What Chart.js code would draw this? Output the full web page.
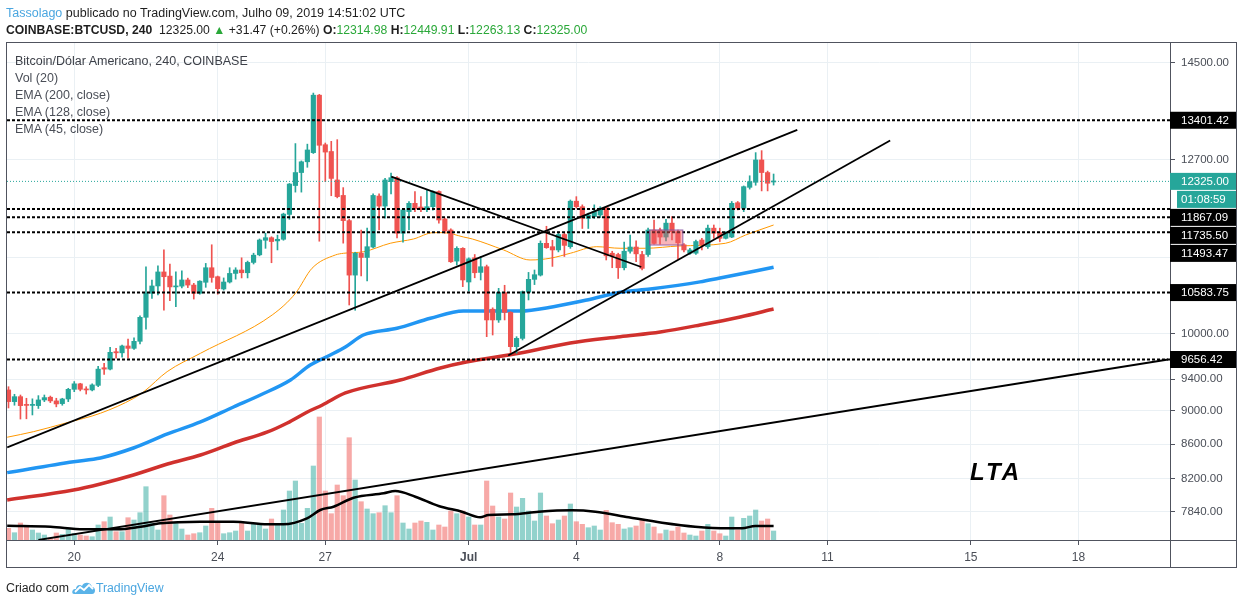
<!DOCTYPE html>
<html>
<head>
<meta charset="utf-8">
<title>BTCUSD 240</title>
<script src="https://cdn.jsdelivr.net/npm/chart.js@4.4.1/dist/chart.umd.min.js"></script>
<style>
  html, body { margin: 0; padding: 0; background: #fff; }
  body { width: 1244px; height: 605px; position: relative; overflow: hidden;
         font-family: "Liberation Sans", Arial, sans-serif; color: #1e1e1e; }
  #chart { position: absolute; left: 0; top: 0; }
  .txt { position: absolute; white-space: nowrap; }
  #head1 { left: 6px; top: 5px; font-size: 12.5px; line-height: 16px; }
  #head2 { left: 6px; top: 22px; font-size: 12.2px; line-height: 16px; }
  .b { font-weight: bold; }
  .up { color: #2aa839; }
  #legend { left: 15px; top: 53px; font-size: 12.5px; line-height: 17px; color: #4a4e57; }
  #legend div:first-child { color: #3c3f47; }
  #lta { left: 970px; top: 460px; font: italic bold 24px "Liberation Sans", Arial, sans-serif; line-height: 24px; letter-spacing: 3px; color: #000; }
  #frame { position: absolute; left: 6px; top: 42px; width: 1231px; height: 526px; border: 1px solid #50535e; box-sizing: border-box; }
  #axisV { position: absolute; left: 1170px; top: 540px; width: 1px; height: 27px; background: #50535e; }
  #axisH { position: absolute; left: 1170px; top: 540px; width: 66px; height: 1px; background: #50535e; }
  #foot { left: 6px; top: 579px; font-size: 12.3px; line-height: 16px; }
  #foot svg { vertical-align: -3px; margin-left: 3px; }
</style>
</head>
<body>
<canvas id="chart" width="1244" height="605"></canvas>
<div id="frame"></div>
<div id="axisV"></div>
<div id="axisH"></div>
<div id="head1" class="txt"><span style="color:#4aa6e0">Tassolago</span> publicado no TradingView.com, Julho 09, 2019 14:51:02 UTC</div>
<div id="head2" class="txt"><span class="b">COINBASE:BTCUSD, 240</span>&nbsp; 12325.00 <span class="up">▲</span> +31.47 (+0.26%) <span class="b">O:</span><span class="up">12314.98</span> <span class="b">H:</span><span class="up">12449.91</span> <span class="b">L:</span><span class="up">12263.13</span> <span class="b">C:</span><span class="up">12325.00</span></div>
<div id="legend" class="txt">
  <div>Bitcoin/Dólar Americano, 240, COINBASE</div>
  <div>Vol (20)</div>
  <div>EMA (200, close)</div>
  <div>EMA (128, close)</div>
  <div>EMA (45, close)</div>
</div>
<div id="lta" class="txt">LTA</div>
<div id="foot" class="txt">Criado com<svg width="24" height="16" viewBox="0 0 24 16"><path d="M2 15 C-1 15 0 9 4 10 C4 6 8 5 10 7 C12 2 19 3 20 8 C24 8 24 15 20 15 Z" fill="#5ab3e8"/><path d="M3 13 L8 8 L12 11 L17 6 L21 10" stroke="#fff" stroke-width="1.8" fill="none"/></svg><span style="color:#4aa6e0">TradingView</span></div>

<script>
// 4h candles, first one opens 18 Jun 04:00 UTC; days counted from 1 Jun (1 Jul = 31)
const startDay = 18 + 4 / 24;
const candleHours = 4;

const opens = [9262, 9115, 9177, 9080, 9068, 9065, 9136, 9170, 9124, 9090,
  9148, 9270, 9340, 9275, 9262, 9320, 9548, 9530, 9760, 9745,
  9837, 9805, 9900, 10231, 10573, 10680, 10887, 10825, 10666, 10677,
  10768, 10693, 10573, 10734, 10950, 10816, 10636, 10738, 10865, 10916,
  10875, 11030, 11145, 11370, 11410, 11360, 11385, 11780, 12255, 12475,
  12660, 12820, 13870, 12960, 12840, 12349, 12090, 11680, 10840, 11170,
  11105, 11265, 12080, 11915, 12320, 12387, 11480, 11825, 11960, 11900,
  11860, 11905, 12155, 11705, 11531, 11050, 11245, 10738, 11100, 10880,
  10965, 10345, 10194, 10583, 10300, 9828, 9940, 10590, 10777, 10840,
  11322, 11270, 11220, 11460, 11270, 11995, 11905, 11715, 11745, 11770,
  11890, 11170, 11150, 10950, 11200, 11265, 11150, 11150, 11531, 11531,
  11420, 11640, 11505, 11300, 11170, 11170, 11374, 11270, 11560, 11490,
  11400, 11420, 11970, 11880, 12225, 12310, 12692, 12475, 12314.98];
const highs = [9303, 9207, 9198, 9157, 9150, 9190, 9198, 9185, 9157, 9157,
  9283, 9369, 9347, 9303, 9340, 9565, 9605, 9820, 9805, 9850,
  9932, 9946, 10250, 10965, 10768, 10977, 11220, 11006, 10890, 10902,
  10795, 10718, 10757, 11015, 11300, 10826, 10798, 10950, 10950, 11100,
  11050, 11170, 11390, 11480, 11425, 11450, 11800, 12290, 12980, 12675,
  12970, 13910, 13885, 12990, 13020, 13050, 12220, 11700, 11185, 11530,
  11560, 12115, 12115, 12377, 12465, 12405, 11880, 11990, 12155, 12070,
  12180, 12165, 12165, 11720, 11550, 11270, 11255, 11100, 11150, 11120,
  10990, 10365, 10645, 10690, 10310, 9963, 10607, 10880, 10916, 11360,
  11590, 11370, 11500, 11480, 12015, 12070, 11935, 11800, 11935, 11905,
  11905, 11200, 11170, 11340, 11450, 11360, 11200, 11560, 11690, 11560,
  11700, 11745, 11531, 11320, 11245, 11374, 11400, 11610, 11610, 11560,
  11505, 11990, 11990, 12248, 12420, 12820, 12855, 12500, 12449.91];
const lows = [9036, 9070, 8900, 8903, 8950, 9030, 9115, 9103, 9050, 9070,
  9115, 9240, 9250, 9210, 9250, 9303, 9460, 9519, 9673, 9686,
  9673, 9790, 9864, 10065, 10500, 10550, 10330, 10466, 10380, 10650,
  10656, 10490, 10560, 10660, 10734, 10560, 10620, 10723, 10780, 10798,
  10798, 11006, 11130, 11245, 11025, 11220, 11370, 11700, 12145, 12145,
  12565, 12805, 11355, 12320, 12085, 12050, 11325, 10405, 10330, 10826,
  10753, 11250, 11531, 11720, 12115, 11405, 11340, 11531, 11825, 11825,
  11825, 11850, 11640, 11480, 11030, 10990, 10670, 10605, 10800, 10768,
  9963, 9986, 10160, 10194, 9740, 9740, 9918, 10477, 10700, 10826,
  11245, 10970, 11190, 11120, 11245, 11880, 11555, 11555, 11715, 11730,
  11067, 10950, 10790, 10916, 11170, 11040, 10916, 11120, 11310, 11310,
  11360, 11374, 11080, 11190, 11150, 11150, 11220, 11245, 11400, 11350,
  11390, 11410, 11852, 11825, 12195, 12260, 12165, 12165, 12263.13];
const closes = [9115, 9177, 9065, 9068, 9080, 9136, 9165, 9124, 9086, 9148,
  9270, 9340, 9270, 9262, 9326, 9530, 9530, 9752, 9745, 9837,
  9805, 9900, 10231, 10573, 10680, 10887, 10816, 10666, 10677, 10768,
  10693, 10573, 10750, 10950, 10805, 10640, 10738, 10865, 10916, 10875,
  11030, 11140, 11374, 11410, 11350, 11385, 11785, 12280, 12475, 12660,
  12867, 13870, 12950, 12830, 12375, 12070, 11680, 10840, 11170, 11105,
  11270, 12090, 11915, 12349, 12387, 11480, 11852, 11960, 11870, 11860,
  11905, 12155, 11690, 11515, 11040, 11245, 10768, 11085, 10875, 10965,
  10194, 10194, 10583, 10300, 9828, 9940, 10597, 10777, 10846, 11322,
  11255, 11220, 11460, 11290, 11995, 11905, 11715, 11770, 11825, 11880,
  11130, 11130, 10950, 11200, 11265, 11160, 10940, 11531, 11320, 11420,
  11640, 11505, 11330, 11220, 11220, 11350, 11300, 11560, 11480, 11400,
  11480, 11960, 11880, 12236, 12320, 12692, 12475, 12293.53, 12325];
const volumes = [1170, 730, 1700, 1430, 1000, 700, 500, 200, 700, 570,
  1170, 670, 500, 400, 330, 1500, 1830, 2300, 830, 830,
  2230, 2000, 2730, 5330, 1670, 1000, 4430, 2500, 1670, 1100,
  500, 630, 730, 1400, 3170, 1730, 630, 730, 900, 1830,
  900, 1570, 1570, 1100, 2100, 1570, 3000, 4900, 5900, 1670,
  3170, 7400, 12300, 4900, 2630, 5500, 4430, 10230, 6000, 3830,
  3100, 2630, 2730, 3430, 2730, 4430, 1700, 1100, 1700, 1900,
  1770, 1000, 1500, 1300, 2900, 2630, 2900, 2300, 1500, 1500,
  5900, 3400, 2300, 2100, 4700, 3300, 4170, 2900, 1900, 4700,
  2400, 1630, 2000, 2400, 3600, 1830, 1570, 1230, 1400, 1000,
  2970, 1730, 1570, 1100, 1230, 1400, 2000, 1630, 1300, 630,
  1000, 900, 1300, 700, 500, 400, 900, 1570, 900, 630,
  400, 2300, 1000, 2170, 2400, 3000, 1900, 2100, 900];

// indicator lines at sample points
const ema200Days = [18.13, 19.98, 20.73, 21.65, 22.6, 23.52, 24.44, 25.39, 25.94, 26.5, 26.92,
  27.56, 29.09, 30.21, 30.93, 32.44, 33.83, 35.22, 36.34, 37.45, 38.57, 39.5];
const ema200Vals = [7966, 8076, 8143, 8243, 8369, 8472, 8613, 8744, 8852, 8987, 9073,
  9224, 9389, 9545, 9623, 9743, 9877, 9963, 10027, 10124, 10236, 10348];
const ema128Days = [18.13, 19.98, 20.73, 21.65, 22.6, 23.52, 24.44, 25.19, 26.03, 26.58, 27.14, 27.56,
  28.06, 29.0, 29.93, 30.85, 32.44, 33.36, 34.3, 35.22, 36.06, 37.45, 37.97, 39.5];
const ema128Vals = [8270, 8395, 8438, 8554, 8720, 8865, 9048, 9198, 9389, 9584, 9716, 9823,
  9986, 10078, 10217, 10320, 10320, 10381, 10477, 10588, 10636, 10740, 10793, 10957];
const ema45Days = [18.13, 18.87, 19.8, 20.73, 21.66, 21.94, 22.59, 23.52, 25.52, 26.17, 26.63,
  27.28, 27.51, 28.07, 28.81, 29.46, 30.02, 30.3, 30.86, 31.1, 31.97, 32.71, 33.27, 33.83,
  34.57, 35.22, 35.93, 36.86, 38.16, 38.72, 39.5];
const ema45Vals = [8681, 8748, 8856, 8971, 9157, 9240, 9497, 9739, 10264, 10574, 10942,
  11143, 11169, 11193, 11323, 11390, 11489, 11489, 11420, 11390, 11220, 11067, 11093, 11169,
  11270, 11246, 11246, 11281, 11323, 11452, 11610];
const volMaDays = [18.13, 19.34, 20.26, 21.2, 21.85, 22.4, 23.52, 24.44, 25.39, 25.83, 26.49,
  26.86, 27.23, 27.79, 28.63, 28.95, 29.51, 30.16, 30.81, 31.32, 31.55, 32.21, 32.95, 33.88,
  34.53, 35.46, 36.39, 37.31, 38.24, 38.62, 38.99, 39.5];
const volMaVals = [1430, 1330, 1070, 1070, 1330, 1670, 1830, 1830, 1570, 1570, 2170,
  3000, 3330, 4230, 4670, 4900, 4330, 3400, 2830, 2270, 2500, 2570, 2830, 2970,
  2830, 2270, 1730, 1330, 1170, 1170, 1400, 1400];

// drawings
const trendDays = [[18.13, 40.16], [32.10, 42.75], [28.84, 35.81], [19.00, 50.50]];
const trendPrices = [[8562, 13225], [9710, 13036], [12405, 10961], [7541, 9656.42]];
const levelPrices = [13401.42, 11867.09, 11735.50, 11493.47, 10583.75, 9656.42];
const boxDays = [36.04, 36.97];
const boxPrices = [11296, 11531];
const countdown = '01:08:59';

// axes
const xMin = 18.125, xMax = 50.553;
const xTickDays = [20, 24, 27, 31, 34, 38, 41, 45, 48];
const xTickLabels = ['20', '24', '27', 'Jul', '4', '8', '11', '15', '18'];
const yMin = 7541, yMax = 14918;
const yTickValues = [7840, 8200, 8600, 9000, 9400, 10000, 11100, 12700, 14500];
const yHiddenTicks = [11100];
const volMax = 49800;

const upColour = '#26a69a', downColour = '#ef5350';
const gridColour = '#eaf0f4', axisColour = '#50535e', textColour = '#4a4e57';

Chart.defaults.font.family = '"Liberation Sans", Arial, sans-serif';

const candleDays = opens.map((o, i) => startDay + i * candleHours / 24);
const isUp = closes.map((c, i) => c >= opens[i]);
const candleColours = isUp.map(u => u ? upColour : downColour);
const volColours = isUp.map(u => u ? 'rgba(38,166,154,0.5)' : 'rgba(239,83,80,0.5)');
const pairs = (days, vals) => days.map((d, i) => ({ x: d, y: vals[i] }));

function lineSet(data, colour, width, order, extra) {
    return Object.assign({
        type: 'line', data: data, borderColor: colour, borderWidth: width,
        pointRadius: 0, fill: false, order: order, yAxisID: 'y'
    }, extra || {});
}

const datasets = [
    {
        type: 'bar', yAxisID: 'yVol', order: 10, grouped: false, barThickness: 4.5,
        data: candleDays.map((d, i) => ({ x: d, y: volumes[i] })),
        backgroundColor: volColours
    },
    lineSet(pairs(volMaDays, volMaVals), '#000', 2.5, 9, { yAxisID: 'yVol', cubicInterpolationMode: 'monotone' }),
    lineSet(pairs(ema200Days, ema200Vals), '#d0312d', 3.5, 8, { cubicInterpolationMode: 'monotone' }),
    lineSet(pairs(ema128Days, ema128Vals), '#2196f3', 3.5, 7, { cubicInterpolationMode: 'monotone' }),
    lineSet(pairs(ema45Days, ema45Vals), '#ff9800', 1, 6, { cubicInterpolationMode: 'monotone' }),
    {
        type: 'bar', order: 5, grouped: false, barThickness: 1, yAxisID: 'y',
        data: candleDays.map((d, i) => ({ x: d, y: [lows[i], highs[i]] })),
        backgroundColor: candleColours
    },
    {
        type: 'bar', order: 4, grouped: false, barThickness: 4.5, minBarLength: 1, yAxisID: 'y',
        data: candleDays.map((d, i) => ({ x: d, y: [Math.min(opens[i], closes[i]), Math.max(opens[i], closes[i])] })),
        backgroundColor: candleColours
    },
    lineSet([{ x: xMin, y: closes[closes.length - 1] }, { x: xMax, y: closes[closes.length - 1] }],
        upColour, 1, 3, { borderDash: [1, 2] })
];
levelPrices.forEach(p => {
    datasets.push(lineSet([{ x: xMin, y: p }, { x: xMax, y: p }], '#000', 2, 2, { borderDash: [3, 2] }));
});
trendDays.forEach((days, i) => {
    datasets.push(lineSet(pairs(days, trendPrices[i]), '#000', 1.8, 1));
});

// rectangle drawing and the price tags on the right axis
const drawings = {
    id: 'drawings',
    afterDatasetsDraw(chart) {
        const { ctx, scales: { x, y } } = chart;
        const x0 = x.getPixelForValue(boxDays[0]), x1 = x.getPixelForValue(boxDays[1]);
        const y0 = y.getPixelForValue(boxPrices[1]), y1 = y.getPixelForValue(boxPrices[0]);
        ctx.save();
        ctx.fillStyle = 'rgba(242,92,100,0.45)';
        ctx.fillRect(x0, y0, x1 - x0, y1 - y0);
        ctx.strokeStyle = 'rgba(128,80,160,0.85)';
        ctx.lineWidth = 1;
        ctx.strokeRect(x0, y0, x1 - x0, y1 - y0);
        ctx.restore();
    },
    afterDraw(chart) {
        const { ctx, chartArea, scales: { y } } = chart;
        const last = closes[closes.length - 1];
        const tags = levelPrices.map(p => ({ y: y.getPixelForValue(p), text: p.toFixed(2), bg: '#000', indent: 0 }));
        tags.push({ y: y.getPixelForValue(last), text: last.toFixed(2), bg: upColour, indent: 0 });
        tags.push({ y: y.getPixelForValue(last) + 0.01, text: countdown, bg: upColour, indent: 7 });
        tags.sort((a, b) => a.y - b.y);
        ctx.save();
        ctx.font = '11.5px "Liberation Sans", Arial, sans-serif';
        ctx.textBaseline = 'middle';
        let prev = -Infinity;
        tags.forEach(t => {
            const cy = Math.max(t.y, prev + 18);
            prev = cy;
            ctx.fillStyle = t.bg;
            ctx.fillRect(chartArea.right + t.indent, cy - 8.5, 66 - t.indent, 17);
            ctx.fillStyle = '#fff';
            ctx.fillText(t.text, chartArea.right + 11, cy + 0.5);
        });
        ctx.restore();
    }
};

new Chart(document.getElementById('chart'), {
    type: 'bar',
    data: { datasets: datasets },
    options: {
        responsive: false,
        animation: false,
        events: [],
        layout: { padding: { left: 7, top: 42, right: 0, bottom: 0 } },
        plugins: { legend: { display: false }, tooltip: { enabled: false } },
        scales: {
            x: {
                type: 'linear', min: xMin, max: xMax, offset: false,
                grid: { color: gridColour, offset: false, tickLength: 5, tickColor: axisColour },
                border: { color: axisColour },
                afterBuildTicks: s => { s.ticks = xTickDays.map(v => ({ value: v })); },
                afterFit: s => { s.height = 65; },
                ticks: {
                    autoSkip: false, maxRotation: 0, padding: 5, color: textColour,
                    font: c => ({ size: 12, weight: c.tick && c.tick.value === 31 ? 'bold' : 'normal' }),
                    callback: v => xTickLabels[xTickDays.indexOf(v)]
                }
            },
            y: {
                type: 'logarithmic', position: 'right', min: yMin, max: yMax,
                grid: { color: gridColour, tickLength: 5, tickColor: axisColour },
                border: { color: axisColour },
                afterBuildTicks: s => { s.ticks = yTickValues.map(v => ({ value: v })); },
                afterFit: s => { s.width = 74; },
                ticks: {
                    padding: 6, color: textColour, font: { size: 11.5 },
                    callback: v => yHiddenTicks.includes(v) ? '' : Number(v).toFixed(2)
                }
            },
            yVol: { type: 'linear', display: false, min: 0, max: volMax }
        }
    },
    plugins: [drawings]
});
</script>
</body>
</html>
